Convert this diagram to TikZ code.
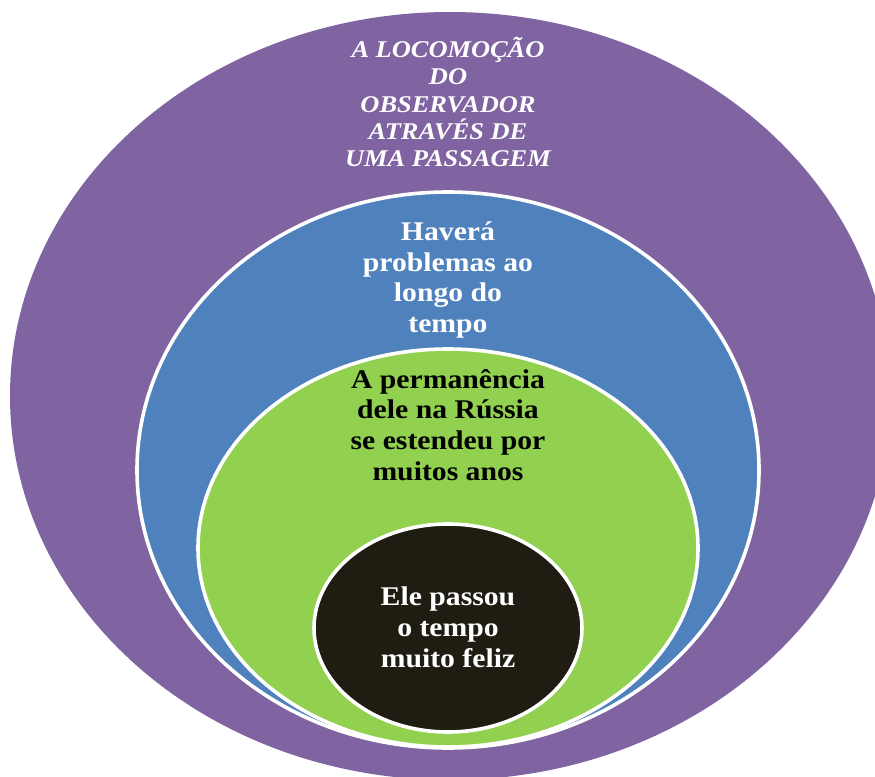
\documentclass[tikz,border=0pt]{standalone}
\usepackage{fontspec}
\setmainfont[FakeStretch=1.1]{Liberation Serif}
\usetikzlibrary{shapes.geometric}

\definecolor{outerpurple}{HTML}{8064A2}
\definecolor{middleblue}{HTML}{4F81BD}
\definecolor{innergreen}{HTML}{92D050}
\definecolor{coredark}{HTML}{1F1C12}

\begin{document}
\begin{tikzpicture}[
    x=1pt, y=-1pt,
    every node/.style={inner sep=0pt},
    ring/.style={ellipse, draw=white, line width=3.6pt},
    ring text/.style={align=center, font=\fontsize{27}{30.8}\selectfont\bfseries},
    title text/.style={align=center, text=white, font=\fontsize{24}{27.2}\selectfont\bfseries\itshape}]

\useasboundingbox (0,0) rectangle (875,776);

% nested ellipses, outside in
\node[ring, draw=none, fill=outerpurple, minimum width=880, minimum height=768] (outer) at (450,396) {};
\node[ring, fill=middleblue, minimum width=622, minimum height=556] (middle) at (448,470) {};
\node[ring, fill=innergreen, minimum width=500, minimum height=398] (inner) at (448,548) {};
\node[ring, fill=coredark, minimum width=268, minimum height=208] (core) at (448,628) {};

% labels
\node[title text] (outer label) at (448,102) {A LOCOMOÇÃO\\DO\\OBSERVADOR\\ATRAVÉS DE\\UMA PASSAGEM};
\node[ring text, text=white] (middle label) at (448,280) {Haverá\\problemas ao\\longo do\\tempo};
\node[ring text, text=black] (inner label) at (448,425) {A permanência\\dele na Rússia\\se estendeu por\\muitos anos};
\node[ring text, text=white] (core label) at (448,627) {Ele passou\\o tempo\\muito feliz};

\end{tikzpicture}
\end{document}
